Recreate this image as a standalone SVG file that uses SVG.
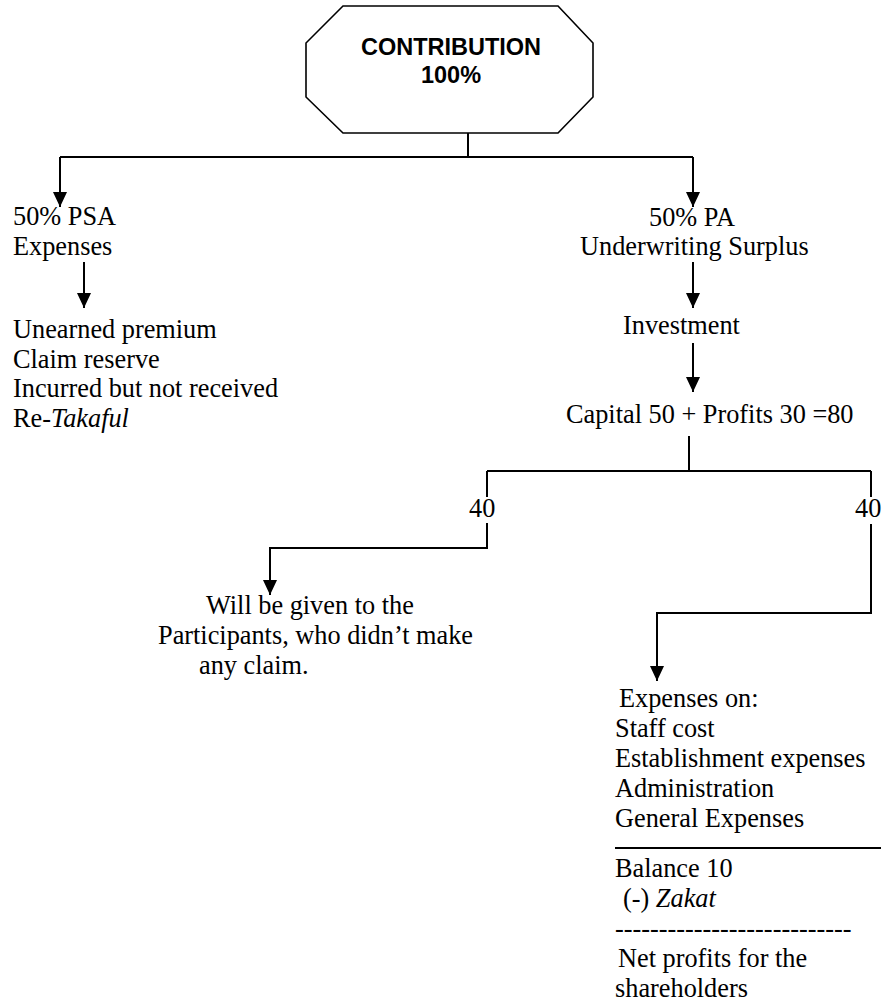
<svg xmlns="http://www.w3.org/2000/svg" width="887" height="1006" viewBox="0 0 887 1006">
<style>
.t{font-family:"Liberation Serif","Times New Roman",serif;font-size:26.3px;fill:#000}
.i{font-style:italic}
.b{font-family:"Liberation Sans",Arial,sans-serif;font-weight:bold;font-size:23.5px;text-anchor:middle;fill:#000}
.c{stroke:#000;stroke-width:2;fill:none}
.a{marker-end:url(#arr)}
.box{fill:#fff;stroke:#000;stroke-width:1.6}
</style>
<defs>
<marker id="arr" markerUnits="userSpaceOnUse" markerWidth="15" markerHeight="14" refX="15" refY="7" orient="auto">
<path d="M0,0 L15,7 L0,14 z" fill="#000"/>
</marker>
</defs>
<rect width="887" height="1006" fill="#fff"/>
<g id="connectors">
<path class="c" d="M468,133 V157"/>
<path class="c" d="M60,157 H693"/>
<path class="c a" d="M60,157 V207"/>
<path class="c a" d="M693,157 V207"/>
<path class="c a" d="M84,262 V308"/>
<path class="c a" d="M693,262 V308"/>
<path class="c a" d="M693,343 V392"/>
<path class="c" d="M689,436 V471"/>
<path class="c" d="M487,471 H871"/>
<path class="c" d="M487,471 V497"/>
<path class="c" d="M871,471 V497"/>
<path class="c a" d="M487,523 V548 H270 V595"/>
<path class="c a" d="M871,524 V613 H657 V681"/>
</g>
<g id="contribution">
<polygon class="box" points="343,6 558,6 593,43 593,97 558,133 343,133 306,97 306,43"/>
<text class="b" x="451" y="55">CONTRIBUTION</text>
<text class="b" x="451" y="83">100%</text>
</g>
<g id="psa">
<text class="t" x="13" y="225">50% PSA</text>
<text class="t" x="13" y="255">Expenses</text>
</g>
<g id="psa-items">
<text class="t" x="13" y="338">Unearned premium</text>
<text class="t" x="13" y="368">Claim reserve</text>
<text class="t" x="13" y="397">Incurred but not received</text>
<text class="t" x="13" y="427">Re-<tspan class="i">Takaful</tspan></text>
</g>
<g id="pa">
<text class="t" x="649" y="226">50% PA</text>
<text class="t" x="580" y="255">Underwriting Surplus</text>
</g>
<g id="investment">
<text class="t" x="623" y="334">Investment</text>
</g>
<g id="capital">
<text class="t" x="566" y="423">Capital 50 + Profits 30 =80</text>
</g>
<g id="share-left">
<text class="t" x="469" y="517">40</text>
</g>
<g id="share-right">
<text class="t" x="855" y="517">40</text>
</g>
<g id="participants">
<text class="t" x="206" y="614">Will be given to the</text>
<text class="t" x="158" y="644">Participants, who didn’t make</text>
<text class="t" x="199" y="674">any claim.</text>
</g>
<g id="expenses">
<text class="t" x="619" y="707">Expenses on:</text>
<text class="t" x="615" y="737">Staff cost</text>
<text class="t" x="615" y="767">Establishment expenses</text>
<text class="t" x="615" y="797">Administration</text>
<text class="t" x="615" y="827">General Expenses</text>
<path class="c" d="M615,848 H881"/>
<text class="t" x="615" y="877">Balance 10</text>
<text class="t" x="623" y="907">(-) <tspan class="i">Zakat</tspan></text>
<text class="t" x="615" y="937">---------------------------</text>
<text class="t" x="618" y="967">Net profits for the</text>
<text class="t" x="615" y="997">shareholders</text>
</g>
</svg>
